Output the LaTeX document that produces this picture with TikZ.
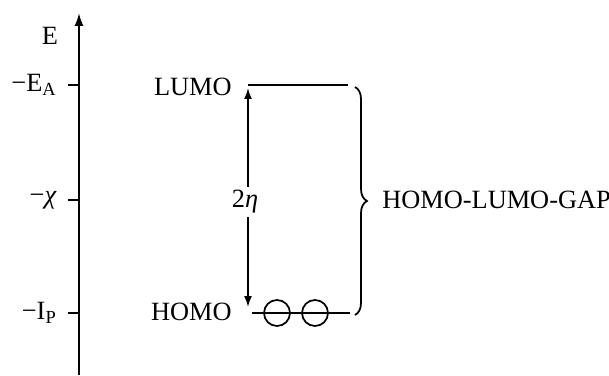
\documentclass[tikz,border=0pt]{standalone}
\usepackage{fontspec}
\setmainfont{Liberation Serif}
\usetikzlibrary{positioning,arrows.meta,decorations.pathreplacing}

\tikzset{
  lbl/.style={font=\fontsize{15}{17}\selectfont,inner sep=0pt},
  level/.style={line width=1pt},
  tip/.style={-{Latex[length=2.6mm,width=1.8mm]}},
}

\begin{document}
\begin{tikzpicture}
\useasboundingbox (0,0) rectangle (12.18,7.5);
% energy axis with ticks
\coordinate (axbot) at (1.58,0);
\coordinate (axtop) at (1.58,7.24);
\draw[line width=1.1pt,tip] (axbot) -- (axtop);
\node[lbl] (elab) at (1.0,6.78) {E};
\foreach \y/\name/\txt in {5.80/ea/{−E\textsubscript{A}},3.50/chi/{−\textit{χ}},1.24/ip/{−I\textsubscript{P}}}{
  \coordinate (\name) at (1.58,\y);
  \draw[line width=1pt] (\name) -- ++(-0.22,0) coordinate (\name t);
  \node[lbl,left=0.22cm of \name t] (\name lab) {\txt};
}
% orbital levels
\coordinate (lumoL) at (4.96,5.80);
\coordinate (lumoR) at (6.96,5.80);
\coordinate (homoL) at (5.04,1.24);
\coordinate (homoR) at (7.00,1.24);
\draw[level] (lumoL) -- (lumoR);
\draw[level] (homoL) -- (homoR);
\node[lbl,anchor=base east] (lumo) at (4.64,5.58) {LUMO};
\node[lbl,anchor=base east] (homo) at (4.64,1.10) {HOMO};
% electron pair
\node[circle,draw,line width=1pt,minimum size=0.52cm,inner sep=0pt] (el1) at (5.54,1.24) {};
\node[circle,draw,line width=1pt,minimum size=0.52cm,inner sep=0pt] (el2) at (6.30,1.24) {};
% gap arrow
\coordinate (gtop) at (4.96,5.74);
\coordinate (gbot) at (4.96,1.36);
\draw[line width=1pt,{Latex[length=2.2mm,width=1.6mm]}-{Latex[length=2.2mm,width=1.6mm]}] (gtop) -- (gbot);
\node[lbl,fill=white,inner sep=2pt] (eta) at (4.9,3.46) {2\textit{η}};
% brace
\coordinate (btop) at (7.1,5.76);
\coordinate (bbot) at (7.1,1.20);
\draw[line width=1pt,decorate,decoration={brace,amplitude=0.24cm}] (btop) -- (bbot);
\node[lbl,anchor=base west] (gap) at (7.64,3.32) {HOMO-LUMO-GAP};
\end{tikzpicture}
\end{document}
